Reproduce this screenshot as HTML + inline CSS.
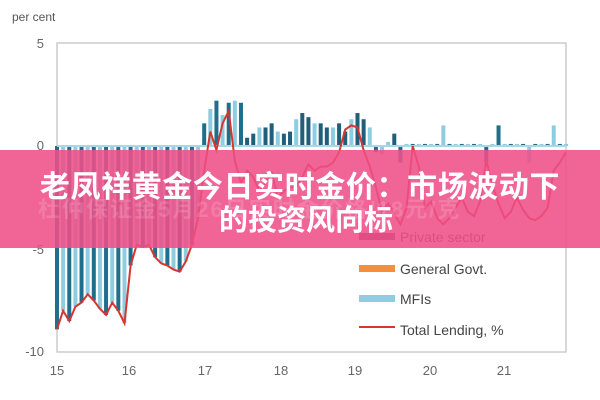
<!DOCTYPE html>
<html><head><meta charset="utf-8">
<style>
html,body{margin:0;padding:0;background:#fff;width:600px;height:400px;overflow:hidden;position:relative;font-family:"Liberation Sans","Noto Sans CJK SC",sans-serif}
svg{position:absolute;left:0;top:0}
.banner{position:absolute;left:0;top:150px;width:600px;height:98px;background:rgba(238,80,135,0.88)}
.t{position:absolute;left:0;width:600px;text-align:center;color:#fff;font-weight:bold;font-family:"Liberation Sans","Noto Sans CJK SC",sans-serif;white-space:nowrap}
.ghost{position:absolute;color:rgba(255,255,255,0.15);font-size:22px;font-weight:bold;left:38px;top:192px;letter-spacing:2px;white-space:nowrap}
</style></head><body>
<svg id="s" width="600" height="400" viewBox="0 0 600 400"></svg>
<div class="banner"></div>
<div class="ghost">杜仲保证金5月26日实时金价格/18元/克</div>
<div class="t" style="top:162px;font-size:30px;letter-spacing:0.6px">老凤祥黄金今日实时金价：市场波动下</div>
<div class="t" style="top:197px;font-size:29px;padding-left:6px">的投资风向标</div>
<script>
var s=document.getElementById('s'),h='';
var X0=57,X1=566,Y=function(v){return 146-v*20.6};
h+='<rect x="57" y="43" width="509" height="309" fill="none" stroke="#ccc" stroke-width="1.5"/>';
h+='<text x="12" y="21" font-size="12" fill="#555">per cent</text>';
[[5,'5',48],[0,'0',150],[-5,'-5',254],[-10,'-10',356]].forEach(function(a){h+='<text x="44" y="'+a[2]+'" font-size="13" fill="#666" text-anchor="end">'+a[1]+'</text>';});
[['15',57],['16',129],['17',205],['18',281],['19',355],['20',430],['21',504]].forEach(function(a){h+='<text x="'+a[1]+'" y="375" font-size="13" fill="#666" text-anchor="middle">'+a[0]+'</text>';});
var L=[-8.9,-8,-8.5,-7.8,-7.6,-7.2,-7.5,-7.9,-8.2,-7.6,-8,-8.6,
-5.8,-4.8,-4.9,-4.8,-5.4,-5.7,-5.8,-6,-6.1,-5.6,-4.8,-3.5,
-1.2,0.7,-0.2,1.1,1.7,-0.7,-1.8,-1.2,-1.5,-2.2,-1.8,-1.3,
-2.5,-2.2,-2,-2,-1.5,-0.9,-1.2,-1,-1,-0.8,-0.3,0.8,
1,0.9,-0.2,-1,-2,-3.2,-2.8,-3.3,-3.8,-3,0,-1,
-3,-2.7,-3.5,-3.8,-3.5,-3,-2.5,-3.2,-3.4,-2.7,-0.7,-1.9,
-2.8,-3.5,-3.2,-2.5,-3.1,-3.5,-3.6,-3.4,-3,-1.2,-0.8,-0.3];
var n=L.length,dx=(X1-X0)/(n-1);
for(var i=0;i<n;i++){
 var x=X0+i*dx,v=L[i],bv;
 if(i<24)bv=v;else if(i<29)bv=[1.1,1.8,2.2,1.5,2.1][i-24];else if(i<31)bv=[2.2,2.1][i-29];
 else if(i<56)bv=[0.4,0.6,0.9,0.9,1.1,0.7,0.6,0.7,1.3,1.6,1.4,1.1,1.1,0.9,0.9,1.1,0.7,1.3,1.6,1.3,0.9,-0.3,-0.4,0.2,0.6][i-31];
 else bv=(i%9==0)?1:(i%7==0?-0.8:0.1);
 var col=(i%2==0)?'#1f6e8c':'#8ecde0';
 if(i>=31&&i<56&&bv>0)col=(i%3==0)?'#8ecde0':'#1f5f7a';
 var y1=Math.min(Y(bv),Y(0)),y2=Math.max(Y(bv),Y(0));
 h+='<rect x="'+(x-2)+'" y="'+y1+'" width="4" height="'+Math.max(1,y2-y1)+'" fill="'+col+'"/>';
}
h+='<line x1="57" y1="146" x2="566" y2="146" stroke="#a8d8e8" stroke-width="2"/>';
var p='';for(var i=0;i<n;i++)p+=(i?'L':'M')+(X0+i*dx).toFixed(1)+' '+Y(L[i]).toFixed(1);
h+='<path d="'+p+'" fill="none" stroke="#d9342f" stroke-width="2"/>';
var lg=[['#7d3a6e','Private sector',237],['#f0923a','General Govt.',269],['#8ecde0','MFIs',299],['#d9342f','Total Lending, %',330]];
lg.forEach(function(a){h+='<rect x="359" y="'+(a[2]-4)+'" width="36" height="'+(a[1]=='Total Lending, %'?2:7)+'" fill="'+a[0]+'"/><text x="400" y="'+(a[2]+5)+'" font-size="14" fill="#444">'+a[1]+'</text>';});
s.innerHTML=h;
</script>
</body></html>
